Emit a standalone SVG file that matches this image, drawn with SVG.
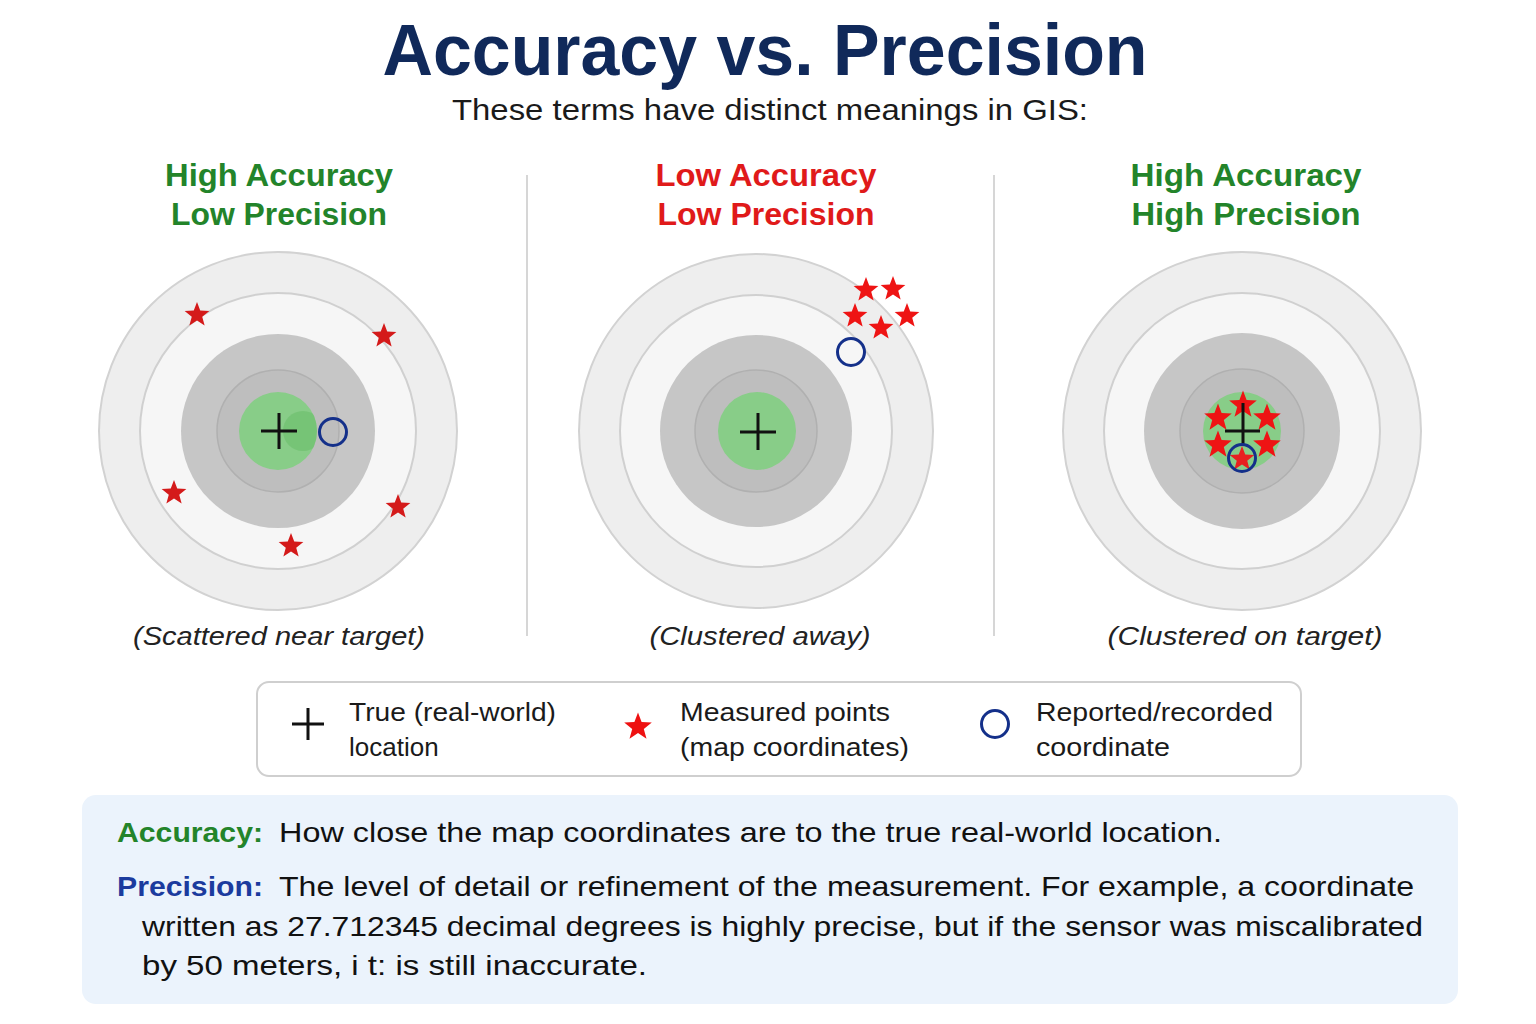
<svg xmlns="http://www.w3.org/2000/svg" xmlns:xlink="http://www.w3.org/1999/xlink" width="1536" height="1024" viewBox="0 0 1536 1024">
<style>
.t{font-family:"Liberation Sans",Arial,sans-serif}
.title{font-size:72px;font-weight:bold;fill:#10295a}
.sub{font-size:30px;fill:#1a1a1a}
.hg{font-size:32px;font-weight:bold;fill:#23842a}
.hr{font-size:32px;font-weight:bold;fill:#e01a1a}
.cap{font-size:26px;font-style:italic;fill:#222}
.leg{font-size:26px;fill:#1a1a1a}
.body{font-size:28px;fill:#111}
.ka{font-size:28px;font-weight:bold;fill:#23842a}
.kp{font-size:28px;font-weight:bold;fill:#1b3b9e}
.r1{fill:#eeeeee;stroke:#d2d2d2;stroke-width:2}
.r2{fill:#f6f6f6;stroke:#d0d0d0;stroke-width:2}
.r3{fill:#c6c6c6}
.r4{fill:#bebebe;stroke:#b0b0b0;stroke-width:1.5}
.r5{fill:#88cd88}
.cross{stroke:#111;stroke-width:3;fill:none}
.rep{fill:none;stroke:#14308a;stroke-width:3}
.div{stroke:#d6d6d6;stroke-width:2}
</style>
<defs>
<path id="star" d="M0,-13 L3.23,-4.45 L12.36,-4.02 L5.23,1.70 L7.64,10.52 L0,5.5 L-7.64,10.52 L-5.23,1.70 L-12.36,-4.02 L-3.23,-4.45 Z"/>
<path id="starL" d="M0,-14.5 L3.6,-5 L13.8,-4.5 L5.8,1.9 L8.5,11.7 L0,6.1 L-8.5,11.7 L-5.8,1.9 L-13.8,-4.5 L-3.6,-5 Z"/>
<clipPath id="gclip1"><circle cx="278" cy="431" r="39"/></clipPath>
</defs>
<rect width="1536" height="1024" fill="#ffffff"/>

<g id="title">
<text class="t title" x="765" y="75" text-anchor="middle" textLength="765" lengthAdjust="spacingAndGlyphs">Accuracy vs. Precision</text>
<text class="t sub" x="770" y="120" text-anchor="middle" textLength="636" lengthAdjust="spacingAndGlyphs">These terms have distinct meanings in GIS:</text>
</g>

<g id="dividers">
<line class="div" x1="527" y1="175" x2="527" y2="636"/>
<line class="div" x1="994" y1="175" x2="994" y2="636"/>
</g>

<g id="panel-high-acc-low-prec">
<text class="t hg" x="279" y="186" text-anchor="middle" textLength="228" lengthAdjust="spacingAndGlyphs">High Accuracy</text>
<text class="t hg" x="279" y="225" text-anchor="middle" textLength="216" lengthAdjust="spacingAndGlyphs">Low Precision</text>
<circle class="r1" cx="278" cy="431" r="179"/>
<circle class="r2" cx="278" cy="431" r="138"/>
<circle class="r3" cx="278" cy="431" r="97"/>
<circle class="r4" cx="278" cy="431" r="61"/>
<circle class="r5" cx="278" cy="431" r="39"/>
<circle cx="303" cy="431" r="20" fill="#6fc06f" opacity="0.7" clip-path="url(#gclip1)"/>
<path class="cross" d="M261,431 H297 M279,413 V449"/>
<circle class="rep" cx="333" cy="432" r="13.5"/>
<g fill="#d41a1a">
<use xlink:href="#star" x="197" y="315"/>
<use xlink:href="#star" x="384" y="336"/>
<use xlink:href="#star" x="174" y="493"/>
<use xlink:href="#star" x="398" y="507"/>
<use xlink:href="#star" x="291" y="546"/>
</g>
<text class="t cap" x="279" y="645" text-anchor="middle" textLength="292" lengthAdjust="spacingAndGlyphs">(Scattered near target)</text>
</g>

<g id="panel-low-acc-low-prec">
<text class="t hr" x="766" y="186" text-anchor="middle" textLength="221" lengthAdjust="spacingAndGlyphs">Low Accuracy</text>
<text class="t hr" x="766" y="225" text-anchor="middle" textLength="217" lengthAdjust="spacingAndGlyphs">Low Precision</text>
<circle class="r1" cx="756" cy="431" r="177"/>
<circle class="r2" cx="756" cy="431" r="136"/>
<circle class="r3" cx="756" cy="431" r="96"/>
<circle class="r4" cx="756" cy="431" r="61"/>
<circle class="r5" cx="757" cy="431" r="39"/>
<path class="cross" d="M740,432 H776 M758,413 V450"/>
<circle class="rep" cx="851" cy="352" r="13.5"/>
<g fill="#ee1414">
<use xlink:href="#star" x="866" y="290"/>
<use xlink:href="#star" x="893" y="289"/>
<use xlink:href="#star" x="855" y="316"/>
<use xlink:href="#star" x="907" y="316"/>
<use xlink:href="#star" x="881" y="328"/>
</g>
<text class="t cap" x="760" y="645" text-anchor="middle" textLength="221" lengthAdjust="spacingAndGlyphs">(Clustered away)</text>
</g>

<g id="panel-high-acc-high-prec">
<text class="t hg" x="1246" y="186" text-anchor="middle" textLength="231" lengthAdjust="spacingAndGlyphs">High Accuracy</text>
<text class="t hg" x="1246" y="225" text-anchor="middle" textLength="229" lengthAdjust="spacingAndGlyphs">High Precision</text>
<circle class="r1" cx="1242" cy="431" r="179"/>
<circle class="r2" cx="1242" cy="431" r="138"/>
<circle class="r3" cx="1242" cy="431" r="98"/>
<circle class="r4" cx="1242" cy="431" r="62"/>
<circle class="r5" cx="1242" cy="431" r="39"/>
<g fill="#ee1414">
<use xlink:href="#starL" x="1243" y="405"/>
<use xlink:href="#starL" x="1218" y="418"/>
<use xlink:href="#starL" x="1267" y="418"/>
<use xlink:href="#starL" x="1218" y="445"/>
<use xlink:href="#starL" x="1267" y="445"/>
</g>
<path class="cross" d="M1225,431 H1260 M1243,403 V446"/>
<use xlink:href="#star" x="1242" y="459" fill="#e82020"/>
<circle class="rep" cx="1242" cy="458" r="13.5"/>
<text class="t cap" x="1245" y="645" text-anchor="middle" textLength="275" lengthAdjust="spacingAndGlyphs">(Clustered on target)</text>
</g>

<g id="legend">
<rect x="257" y="682" width="1044" height="94" rx="12" fill="#ffffff" stroke="#cfcfcf" stroke-width="2"/>
<path class="cross" d="M292,724 H324 M308,708 V740"/>
<text class="t leg" x="349" y="721" textLength="207" lengthAdjust="spacingAndGlyphs">True (real-world)</text>
<text class="t leg" x="349" y="756">location</text>
<use xlink:href="#starL" x="638" y="727" fill="#ee1111"/>
<text class="t leg" x="680" y="721" textLength="210" lengthAdjust="spacingAndGlyphs">Measured points</text>
<text class="t leg" x="680" y="756" textLength="229" lengthAdjust="spacingAndGlyphs">(map coordinates)</text>
<circle class="rep" cx="995" cy="724" r="13.5"/>
<text class="t leg" x="1036" y="721" textLength="237" lengthAdjust="spacingAndGlyphs">Reported/recorded</text>
<text class="t leg" x="1036" y="756" textLength="134" lengthAdjust="spacingAndGlyphs">coordinate</text>
</g>

<g id="definitions">
<rect x="82" y="795" width="1376" height="209" rx="14" fill="#ebf3fc"/>
<text class="t ka" x="117" y="842" textLength="146" lengthAdjust="spacingAndGlyphs">Accuracy:</text>
<text class="t body" x="279" y="842" textLength="943" lengthAdjust="spacingAndGlyphs">How close the map coordinates are to the true real-world location.</text>
<text class="t kp" x="117" y="896" textLength="146" lengthAdjust="spacingAndGlyphs">Precision:</text>
<text class="t body" x="279" y="896" textLength="1135" lengthAdjust="spacingAndGlyphs">The level of detail or refinement of the measurement. For example, a coordinate</text>
<text class="t body" x="142" y="936" textLength="1281" lengthAdjust="spacingAndGlyphs">written as 27.712345 decimal degrees is highly precise, but if the sensor was miscalibrated</text>
<text class="t body" x="142" y="975" textLength="505" lengthAdjust="spacingAndGlyphs">by 50 meters, i t: is still inaccurate.</text>
</g>
</svg>
